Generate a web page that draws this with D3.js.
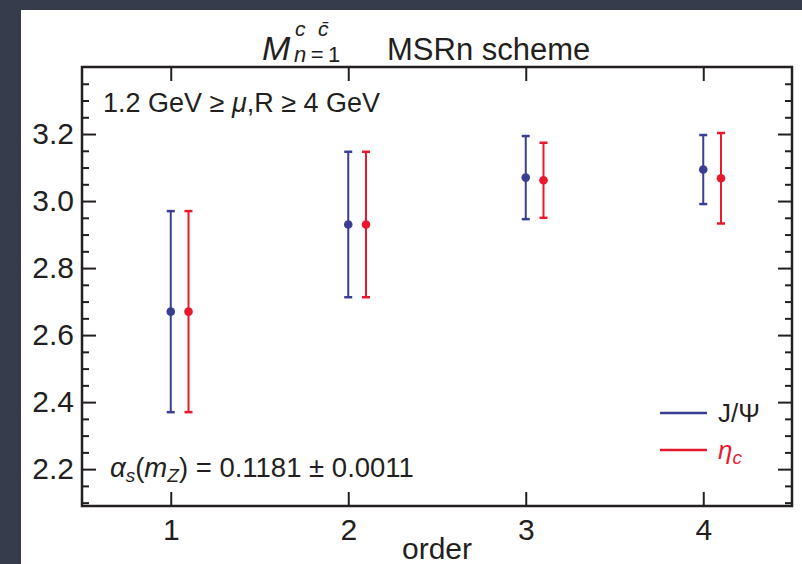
<!DOCTYPE html>
<html>
<head>
<meta charset="utf-8">
<script src="https://cdn.jsdelivr.net/npm/d3@7"></script>
<style>
  body { margin: 0; background: #363c4c; }
  svg { display: block; }
  text { font-family: 'Liberation Sans', Arial, Helvetica, sans-serif; fill: #231f20; }
  .axis path, .axis line { stroke: #231f20; }
</style>
</head>
<body>
<svg id="chart"></svg>
<script>
// data
const orders = [1, 2, 3, 4]
const jpsiCentral = [2.67, 2.93, 3.07, 3.094]
const jpsiErr = [0.30, 0.217, 0.124, 0.103]
const etacCentral = [2.67, 2.93, 3.062, 3.068]
const etacErr = [0.30, 0.217, 0.112, 0.135]
const yMajorTicks = [2.2, 2.4, 2.6, 2.8, 3.0, 3.2]

const W = 802, H = 564
const MARGINS = {top: 67, right: 10, bottom: 58, left: 82}
const BLUE = '#3a3e93', RED = '#e8192c', INK = '#231f20'

const svg = d3.select('#chart').attr('width', W).attr('height', H)

// slide background + white panel
svg.append('rect').attr('width', W).attr('height', H).attr('fill', '#363c4c')
svg.append('rect').attr('x', 21).attr('y', 10).attr('width', W - 21).attr('height', H - 10).attr('fill', '#fff')

const x = d3.scaleLinear().domain([0.5, 4.5]).range([MARGINS.left, W - MARGINS.right])
const y = d3.scaleLinear().domain([2.09, 3.4]).range([H - MARGINS.bottom, MARGINS.top])

const minorTicks = d3.range(2.1, 3.4, 0.05).map(v => +v.toFixed(2))
	.filter(v => !yMajorTicks.some(t => Math.abs(t - v) < 1e-6))

const g = svg.append('g')

// frame
g.append('rect')
	.attr('x', x.range()[0]).attr('y', y.range()[1])
	.attr('width', x.range()[1] - x.range()[0])
	.attr('height', y.range()[0] - y.range()[1])
	.attr('fill', 'none').attr('stroke', INK).attr('stroke-width', 2.5)

function styleAxis (sel) {
	sel.select('.domain').remove()
	sel.selectAll('line').attr('stroke', INK).attr('stroke-width', 2)
	sel.selectAll('text').attr('fill', INK).style('font-size', '30px')
}

// left axis, major + minor
g.append('g').attr('class', 'axis')
	.attr('transform', `translate(${x.range()[0]},0)`)
	.call(d3.axisLeft(y).tickValues(yMajorTicks).tickSize(-14).tickPadding(8).tickFormat(d3.format('.1f')))
	.call(styleAxis)
g.append('g').attr('class', 'axis')
	.attr('transform', `translate(${x.range()[0]},0)`)
	.call(d3.axisLeft(y).tickValues(minorTicks).tickSize(-7).tickFormat(''))
	.call(styleAxis)

// right axis, mirrored ticks
g.append('g').attr('class', 'axis')
	.attr('transform', `translate(${x.range()[1]},0)`)
	.call(d3.axisRight(y).tickValues(yMajorTicks).tickSize(-14).tickFormat(''))
	.call(styleAxis)
g.append('g').attr('class', 'axis')
	.attr('transform', `translate(${x.range()[1]},0)`)
	.call(d3.axisRight(y).tickValues(minorTicks).tickSize(-7).tickFormat(''))
	.call(styleAxis)

// bottom + top axes
g.append('g').attr('class', 'axis')
	.attr('transform', `translate(0,${y.range()[0]})`)
	.call(d3.axisBottom(x).tickValues(orders).tickSize(-14).tickPadding(13).tickFormat(d3.format('d')))
	.call(styleAxis)
g.append('g').attr('class', 'axis')
	.attr('transform', `translate(0,${y.range()[1]})`)
	.call(d3.axisTop(x).tickValues(orders).tickSize(-14).tickFormat(''))
	.call(styleAxis)

// error bars
const series = [
	{color: BLUE, shift: 0, central: jpsiCentral, err: jpsiErr},
	{color: RED, shift: 0.1, central: etacCentral, err: etacErr}
]
const CAP = 4
series.forEach(s => {
	const pts = orders.map((o, i) => ({o: o + s.shift, c: s.central[i], e: s.err[i]}))
	const sg = g.append('g')
	sg.selectAll('line.bar').data(pts).join('line')
		.attr('x1', d => x(d.o)).attr('x2', d => x(d.o))
		.attr('y1', d => y(d.c + d.e)).attr('y2', d => y(d.c - d.e))
		.attr('stroke', s.color).attr('stroke-width', 2)
	sg.selectAll('line.capTop').data(pts).join('line')
		.attr('x1', d => x(d.o) - CAP).attr('x2', d => x(d.o) + CAP)
		.attr('y1', d => y(d.c + d.e)).attr('y2', d => y(d.c + d.e))
		.attr('stroke', s.color).attr('stroke-width', 2.5)
	sg.selectAll('line.capBot').data(pts).join('line')
		.attr('x1', d => x(d.o) - CAP).attr('x2', d => x(d.o) + CAP)
		.attr('y1', d => y(d.c - d.e)).attr('y2', d => y(d.c - d.e))
		.attr('stroke', s.color).attr('stroke-width', 2.5)
	sg.selectAll('circle').data(pts).join('circle')
		.attr('cx', d => x(d.o)).attr('cy', d => y(d.c)).attr('r', 4.3)
		.attr('fill', s.color)
})

// title: M^{c cbar}_{n=1}   MSRn scheme
svg.append('text').attr('x', 262).attr('y', 60)
	.style('font-style', 'italic').style('font-size', '34px').text('M')
const sup = svg.append('text').attr('y', 36).style('font-size', '21px').style('font-style', 'italic')
sup.append('tspan').attr('x', 295).text('c')
sup.append('tspan').attr('x', 318).text('c\u0304')
const sub = svg.append('text').attr('x', 294).attr('y', 62).style('font-size', '22px')
sub.append('tspan').text('n').style('font-style', 'italic')
sub.append('tspan').text('\u2009=\u20091')
svg.append('text').attr('x', 387).attr('y', 60).style('font-size', '31px').text('MSRn scheme')

// axis title
svg.append('text').attr('x', x((orders[0] + orders[orders.length - 1]) / 2)).attr('y', 559)
	.attr('text-anchor', 'middle').style('font-size', '30px').text('order')

// annotations
const ann1 = svg.append('text').attr('x', 103).attr('y', 112).style('font-size', '27px')
ann1.append('tspan').text('1.2 GeV \u2265 ')
ann1.append('tspan').text('\u03bc').style('font-style', 'italic')
ann1.append('tspan').text(',R \u2265 4 GeV')

const ann2 = svg.append('text').attr('x', 110).attr('y', 477).style('font-size', '27.5px')
ann2.append('tspan').text('\u03b1').style('font-style', 'italic')
ann2.append('tspan').text('s').style('font-style', 'italic').style('font-size', '19px').attr('dy', 5)
ann2.append('tspan').text('(').attr('dy', -5)
ann2.append('tspan').text('m').style('font-style', 'italic')
ann2.append('tspan').text('Z').style('font-style', 'italic').style('font-size', '19px').attr('dy', 5)
ann2.append('tspan').text(') = 0.1181 \u00b1 0.0011').attr('dy', -5)

// legend
const legend = [
	{label: 'J/\u03a8', color: BLUE},
	{label: '\u03b7', sub: 'c', color: RED}
]
const lg = svg.append('g').attr('transform', 'translate(660,413)')
legend.forEach((d, i) => {
	const row = lg.append('g').attr('transform', `translate(0,${i * 37})`)
	row.append('line').attr('x1', 0).attr('x2', 47).attr('stroke', d.color).attr('stroke-width', 2.5)
	const t = row.append('text').attr('x', 58).attr('y', 9).style('font-size', '26px').attr('fill', d.color)
	if (d.sub) {
		t.append('tspan').text(d.label).style('font-style', 'italic').attr('fill', d.color)
		t.append('tspan').text(d.sub).style('font-style', 'italic').style('font-size', '19px').attr('dy', 5).attr('fill', d.color)
	} else {
		t.text(d.label)
	}
})
</script>
</body>
</html>
